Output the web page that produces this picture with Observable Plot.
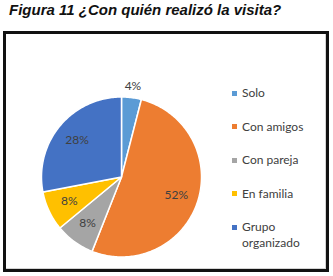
<!DOCTYPE html>
<html>
<head>
<meta charset="utf-8">
<script src="https://cdn.jsdelivr.net/npm/d3@7"></script>
<script src="https://cdn.jsdelivr.net/npm/@observablehq/plot@0.6"></script>
<style>
  html, body { margin: 0; padding: 0; background: #fff; }
  #wrap { position: relative; width: 333px; height: 276px; overflow: hidden; }
  #title { position: absolute; left: 9px; top: 1px; font: italic bold 15px "Liberation Sans", Arial, sans-serif; color: #111; white-space: nowrap; }
  #frame { position: absolute; left: 3px; top: 31px; width: 320px; height: 235px; border: 3px solid #111; }
  #frame::after { content: ""; position: absolute; inset: 0; border-right: 1px solid #d4d4d4; border-bottom: 1px solid #d4d4d4; }
  #chart { position: absolute; left: 0; top: 24px; }
  #legend { position: absolute; left: 232px; top: 85px; font: 12px Lato, "Open Sans", sans-serif; color: #404040; }
  .item { position: relative; height: 33.5px; padding-left: 10px; line-height: 16px; }
  .item span.sw { position: absolute; left: 0; top: 5.5px; width: 5px; height: 5px; }
</style>
</head>
<body>
<div id="wrap">
  <div id="title">Figura 11 ¿Con quién realizó la visita?</div>
  <div id="frame"></div>
  <div id="chart"></div>
  <div id="legend"></div>
</div>
<script>
// Who the visit was made with (percent of respondents)
const categories = ["Solo", "Con amigos", "Con pareja", "En familia", "Grupo organizado"];
const percents = [4, 52, 8, 8, 28];
const legendLabels = ["Solo", "Con amigos", "Con pareja", "En familia", "Grupo<br>organizado"];
const colors = ["#5B9BD5", "#ED7D31", "#A5A5A5", "#FFC000", "#4472C4"];

const rows = categories.map((name, i) => ({name, value: percents[i]}));
const arcs = d3.pie().sort(null).value(d => d.value)(rows);

// Slice outlines as closed polygons in unit-circle coordinates (clockwise from 12 o'clock)
const outline = [];
for (const a of arcs) {
  const n = Math.max(2, Math.ceil((a.endAngle - a.startAngle) / (Math.PI / 180)));
  outline.push({name: a.data.name, x: 0, y: 0});
  for (let k = 0; k <= n; k++) {
    const t = a.startAngle + (a.endAngle - a.startAngle) * k / n;
    outline.push({name: a.data.name, x: Math.sin(t), y: Math.cos(t)});
  }
}

// Percentage labels: small slices sit just outside the rim
const labels = arcs.map(a => {
  const mid = (a.startAngle + a.endAngle) / 2;
  const rr = a.data.value < 5 ? 1.14 : 0.72;
  return {text: a.data.value + "%", x: Math.sin(mid) * rr, y: Math.cos(mid) * rr};
});

const cx = 121, cy = 152.5, r = 80;
const chart = Plot.plot({
  width: 333,
  height: 252,
  margin: 0,
  x: {domain: [-1, 1], range: [cx - r, cx + r], axis: null},
  y: {domain: [-1, 1], range: [cy + r, cy - r], axis: null},
  color: {domain: categories, range: colors},
  style: {background: "transparent"},
  marks: [
    Plot.line(outline, {x: "x", y: "y", z: "name", fill: "name", stroke: "white", strokeWidth: 1.5, curve: "linear-closed"}),
    Plot.text(labels, {x: "x", y: "y", text: "text", fill: "#404040", fontSize: 12, fontFamily: "Lato, 'Open Sans', sans-serif"})
  ]
});
document.getElementById("chart").appendChild(chart);

const legend = document.getElementById("legend");
categories.forEach((c, i) => {
  const div = document.createElement("div");
  div.className = "item";
  div.innerHTML = `<span class="sw" style="background:${colors[i]}"></span>${legendLabels[i]}`;
  legend.appendChild(div);
});
</script>
</body>
</html>
